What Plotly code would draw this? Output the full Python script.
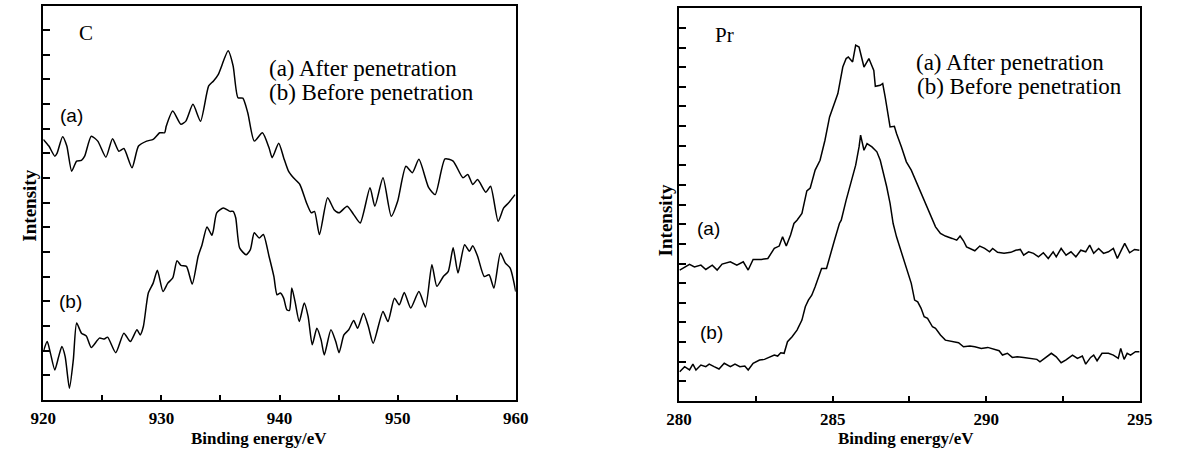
import plotly.graph_objects as go

# ---------------- Data: C panel (binding energy in eV, intensity in arbitrary units) -------------
c_a_x = [920.00, 920.47, 920.97, 921.16, 921.63, 921.99, 922.40, 922.82, 923.23, 923.50, 924.06, 924.61,
         925.30, 925.86, 926.40, 926.82, 927.51, 928.06, 928.75, 929.30, 929.86, 930.27, 930.41, 930.96,
         931.65, 932.07, 932.67, 933.31, 934.00, 934.41, 934.82, 935.65, 936.07, 936.48, 936.89, 937.31,
         937.86, 938.55, 939.11, 939.38, 939.93, 940.35, 940.76, 941.18, 941.72, 942.28, 942.69, 942.96,
         943.38, 944.07, 944.62, 945.04, 945.73, 946.28, 946.83, 947.66, 948.07, 948.76, 949.46, 950.00,
         950.70, 951.25, 951.80, 952.63, 953.18, 954.01, 954.70, 955.53, 955.94, 956.36, 956.77, 957.46,
         957.87, 958.51, 958.98, 959.40, 959.94]
c_a_y = [10.57, 10.30, 9.89, 10.00, 10.68, 10.30, 9.28, 9.69, 9.72, 9.89, 10.70, 10.50,
         9.85, 10.60, 10.09, 10.20, 9.42, 10.30, 10.50, 10.57, 10.84, 10.84, 11.11, 11.72,
         11.18, 11.31, 11.99, 11.31, 12.74, 12.94, 13.21, 14.16, 13.55, 12.26, 12.24, 11.65,
         10.50, 10.84, 10.23, 9.83, 10.41, 9.83, 9.28, 9.01, 8.74, 8.00, 7.59, 7.65,
         6.71, 8.20, 7.72, 7.59, 7.86, 7.52, 7.18, 8.61, 7.86, 9.01, 7.45, 8.06,
         9.48, 9.22, 9.76, 8.61, 8.33, 9.78, 9.69, 9.01, 9.15, 8.74, 8.94, 8.43,
         8.67, 7.25, 7.79, 8.00, 8.33]

c_b_x = [920.00, 920.33, 920.60, 920.97, 921.30, 921.57, 921.85, 922.21, 922.54, 922.82, 923.23, 923.64,
         924.06, 924.75, 925.16, 925.44, 926.13, 926.82, 927.37, 927.93, 928.20, 928.47, 928.89, 929.30,
         929.66, 930.13, 930.54, 930.96, 931.32, 931.65, 932.12, 932.61, 933.11, 933.44, 933.86, 934.27,
         934.41, 934.68, 935.24, 935.79, 936.07, 936.29, 936.62, 937.17, 937.53, 937.86, 938.28, 938.63,
         939.11, 939.52, 939.79, 940.07, 940.35, 940.62, 940.84, 941.04, 941.31, 941.67, 942.09, 942.42,
         942.77, 943.16, 943.52, 943.79, 944.35, 944.76, 945.04, 945.45, 945.86, 946.28, 946.61, 947.11,
         947.52, 947.93, 948.76, 949.18, 949.73, 950.14, 950.56, 951.11, 951.80, 952.36, 952.90, 953.32,
         953.87, 954.29, 954.70, 955.11, 955.67, 956.08, 956.36, 956.77, 957.33, 957.74, 958.15, 958.70,
         959.11, 959.53, 960.00]
c_b_y = [1.96, 2.37, 1.90, 1.22, 1.76, 2.17, 1.76, 0.48, 1.63, 3.12, 2.71, 2.60,
         2.13, 2.51, 2.47, 2.55, 1.92, 2.71, 2.37, 2.85, 2.64, 2.98, 4.34, 4.74,
         5.26, 4.40, 4.74, 4.95, 5.65, 5.46, 5.42, 4.70, 5.83, 6.30, 7.02, 6.68,
         6.91, 7.59, 7.79, 7.65, 7.65, 7.39, 6.17, 5.89, 6.10, 6.78, 6.57, 6.71,
         5.83, 5.01, 4.27, 4.34, 4.13, 3.66, 3.63, 4.54, 4.00, 3.18, 3.93, 3.39,
         2.24, 2.91, 2.44, 1.83, 2.85, 2.37, 1.92, 2.64, 2.85, 3.22, 2.91, 3.52,
         2.98, 2.30, 3.59, 3.18, 4.13, 3.86, 4.36, 3.73, 4.40, 3.77, 5.49, 4.61,
         5.01, 5.22, 6.17, 5.15, 6.30, 6.03, 6.26, 5.83, 5.01, 5.08, 4.54, 5.96,
         5.56, 5.35, 4.40]

# ---------------- Data: Pr panel ----------------
pr_a_x = [280.02, 280.18, 280.34, 280.50, 280.71, 280.87, 281.08, 281.24, 281.40, 281.67, 281.88, 282.09,
          282.25, 282.41, 282.68, 282.89, 283.10, 283.26, 283.37, 283.49, 283.63, 283.74, 283.84, 284.00,
          284.16, 284.27, 284.43, 284.59, 284.75, 284.90, 285.06, 285.17, 285.33, 285.44, 285.51, 285.65,
          285.75, 285.86, 286.02, 286.18, 286.34, 286.39, 286.55, 286.63, 286.71, 286.87, 287.01, 287.08,
          287.24, 287.40, 287.56, 287.72, 287.88, 288.04, 288.19, 288.35, 288.51, 288.67, 288.89, 289.04,
          289.15, 289.26, 289.36, 289.52, 289.63, 289.79, 289.95, 290.11, 290.21, 290.37, 290.58, 290.80,
          290.96, 291.11, 291.22, 291.38, 291.54, 291.70, 291.86, 292.02, 292.18, 292.28, 292.44, 292.60,
          292.76, 292.92, 293.08, 293.24, 293.37, 293.50, 293.66, 293.82, 293.98, 294.14, 294.27, 294.40,
          294.51, 294.67, 294.83, 294.99]
pr_a_y = [6.67, 6.80, 6.96, 6.83, 6.92, 6.70, 6.92, 6.67, 6.97, 7.09, 6.92, 7.09,
          6.67, 7.21, 7.21, 7.26, 7.77, 7.89, 8.36, 7.89, 8.45, 9.04, 9.21, 9.55,
          10.70, 10.85, 11.76, 12.26, 13.28, 14.47, 15.15, 15.66, 17.01, 17.44, 17.52, 17.27,
          18.12, 18.03, 17.01, 17.44, 16.84, 16.03, 16.08, 16.17, 15.49, 13.96, 13.99, 13.62,
          12.94, 12.18, 11.76, 11.16, 10.57, 9.97, 9.47, 8.87, 8.53, 8.40, 8.28, 8.19,
          8.40, 8.16, 7.85, 7.72, 7.65, 7.89, 7.77, 7.60, 7.77, 7.57, 7.52, 7.57,
          7.68, 7.72, 7.43, 7.60, 7.52, 7.34, 7.55, 7.26, 7.60, 7.34, 7.77, 7.43,
          7.60, 7.34, 7.68, 7.60, 7.94, 7.52, 7.77, 7.52, 7.60, 7.77, 7.26, 7.68,
          8.03, 7.55, 7.72, 7.68]

pr_b_x = [280.02, 280.18, 280.34, 280.45, 280.55, 280.71, 280.87, 280.98, 281.14, 281.30, 281.47, 281.67,
          281.82, 281.98, 282.14, 282.25, 282.41, 282.62, 282.78, 282.94, 283.10, 283.21, 283.31, 283.42,
          283.53, 283.68, 283.84, 284.00, 284.11, 284.21, 284.32, 284.43, 284.53, 284.64, 284.80, 284.90,
          285.06, 285.22, 285.28, 285.44, 285.60, 285.75, 285.86, 285.91, 286.02, 286.12, 286.28, 286.44,
          286.55, 286.66, 286.76, 286.87, 286.95, 286.97, 287.08, 287.24, 287.40, 287.56, 287.67, 287.77,
          287.88, 287.98, 288.09, 288.25, 288.35, 288.51, 288.67, 288.89, 289.10, 289.26, 289.47, 289.63,
          289.84, 290.05, 290.26, 290.42, 290.53, 290.69, 290.85, 291.01, 291.22, 291.43, 291.65, 291.75,
          291.91, 292.12, 292.28, 292.44, 292.60, 292.81, 292.97, 293.13, 293.24, 293.40, 293.50, 293.61,
          293.77, 293.98, 294.14, 294.30, 294.38, 294.49, 294.59, 294.70, 294.86, 294.99]
pr_b_y = [1.49, 1.75, 1.58, 1.88, 1.58, 1.83, 1.75, 1.88, 1.75, 1.63, 1.92, 1.75,
          1.88, 1.75, 1.78, 1.58, 1.92, 2.09, 2.12, 2.25, 2.34, 2.29, 2.46, 2.43,
          3.02, 3.27, 3.61, 4.12, 4.80, 5.14, 5.39, 5.82, 6.30, 6.75, 6.75, 7.26,
          8.19, 9.04, 9.21, 10.23, 11.16, 12.01, 12.94, 13.54, 12.77, 13.11, 12.94, 12.69,
          12.26, 11.59, 10.91, 10.06, 9.12, 9.04, 8.36, 7.60, 6.83, 5.99, 5.14, 5.05,
          4.72, 4.29, 4.21, 3.78, 3.70, 3.36, 3.10, 3.02, 2.97, 2.76, 2.80, 2.76,
          2.68, 2.73, 2.63, 2.56, 2.34, 2.43, 2.22, 2.25, 2.22, 2.17, 2.12, 2.00,
          2.17, 2.43, 2.25, 1.95, 2.09, 2.34, 2.17, 2.29, 1.88, 2.22, 2.34, 2.05,
          2.43, 2.43, 2.34, 2.17, 2.68, 2.12, 2.43, 2.34, 2.51, 2.51]

c_xticks = [920, 930, 940, 950, 960]
pr_xticks = [280, 285, 290, 295]

legend_a = "(a) After penetration"
legend_b = "(b) Before penetration"

SERIF = "Liberation Serif, Times New Roman, serif"
SANS = "Liberation Sans, Arial, sans-serif"
W, H = 1187, 455

fig = go.Figure()
line = dict(color="black", width=1.5)
fig.add_trace(go.Scatter(x=c_a_x, y=c_a_y, mode="lines", line=dict(**line, shape="spline", smoothing=0.6),
                         xaxis="x", yaxis="y", showlegend=False))
fig.add_trace(go.Scatter(x=c_b_x, y=c_b_y, mode="lines", line=dict(**line, shape="spline", smoothing=0.6),
                         xaxis="x", yaxis="y", showlegend=False))
fig.add_trace(go.Scatter(x=pr_a_x, y=pr_a_y, mode="lines", line=line,
                         xaxis="x2", yaxis="y2", showlegend=False))
fig.add_trace(go.Scatter(x=pr_b_x, y=pr_b_y, mode="lines", line=line,
                         xaxis="x2", yaxis="y2", showlegend=False))

def px(v):
    return v / W

def py(v):
    return 1 - v / H

tickfont = dict(family=SERIF, size=17, color="black", weight=700)
xcommon = dict(showline=True, linewidth=2, linecolor="black", mirror=True, ticks="inside",
               ticklen=5, tickwidth=1.5, tickcolor="black", showgrid=False, zeroline=False,
               tickfont=tickfont, ticklabelstandoff=2, fixedrange=True)
ycommon = dict(showline=True, linewidth=2, linecolor="black", mirror=True, ticks="inside",
               ticklen=7, tickwidth=1.5, tickcolor="black", showgrid=False, zeroline=False,
               showticklabels=False, dtick=1, tick0=0, fixedrange=True)
ymirror = dict(showline=False, ticks="inside", ticklen=3, tickwidth=1, tickcolor="black",
               showgrid=False, zeroline=False, showticklabels=False, dtick=1, tick0=0,
               side="right", fixedrange=True)

fig.update_layout(
    width=W, height=H, margin=dict(l=0, r=0, t=0, b=0), autosize=False,
    paper_bgcolor="white", plot_bgcolor="white",
    xaxis=dict(**xcommon, domain=[px(31), px(514)], range=[920, 960], tickvals=c_xticks,
               minor=dict(dtick=5, tick0=920, ticks="inside", ticklen=5, tickwidth=1.5, tickcolor="black"),
               anchor="y"),
    yaxis=dict(**ycommon, domain=[py(400), py(5.5)], range=[0, 16], anchor="x"),
    yaxis3=dict(**ymirror, range=[0, 16], overlaying="y", anchor="x"),
    xaxis2=dict(**xcommon, domain=[px(681), px(1152)], range=[280, 295], tickvals=pr_xticks,
                minor=dict(dtick=2.5, tick0=280, ticks="inside", ticklen=5, tickwidth=1.5, tickcolor="black"),
                anchor="y2"),
    yaxis2=dict(**ycommon, domain=[py(401), py(8.3)], range=[0, 20], anchor="x2"),
    yaxis4=dict(**ymirror, range=[0, 20], overlaying="y2", anchor="x2"),
)

ann = []
def add(text, x, y, font, xanchor="center", angle=0):
    ann.append(dict(text=text, x=px(x), y=py(y), xref="paper", yref="paper", showarrow=False,
                    xanchor=xanchor, yanchor="middle", textangle=angle, font=font))

serif_reg = dict(family=SERIF, size=23, color="black")
serif_bold_title = dict(family=SERIF, size=17, color="black", weight=700)
sans_lab = dict(family=SANS, size=19, color="black")

# left panel
add("C", 75, 33, dict(family=SERIF, size=21, color="black"))
add(legend_a, 260, 68, serif_reg, xanchor="left")
add(legend_b, 260, 93, serif_reg, xanchor="left")
add("(a)", 60, 115, sans_lab)
add("(b)", 59, 301, sans_lab)
add("Intensity", 17, 206, dict(family=SERIF, size=19, color="black", weight=700), angle=-90)
add("Binding energy/eV", 251, 438, serif_bold_title)
# right panel
add("Pr", 727, 35, dict(family=SERIF, size=21, color="black"))
add(legend_a, 921, 63, serif_reg, xanchor="left")
add(legend_b, 922, 86, serif_reg, xanchor="left")
add("(a)", 711, 228, sans_lab)
add("(b)", 714, 332, sans_lab)
add("Intensity", 667, 220, dict(family=SERIF, size=19, color="black", weight=700), angle=-90)
add("Binding energy/eV", 913, 438, serif_bold_title)

fig.update_layout(annotations=ann)
fig.write_html("out.html")
